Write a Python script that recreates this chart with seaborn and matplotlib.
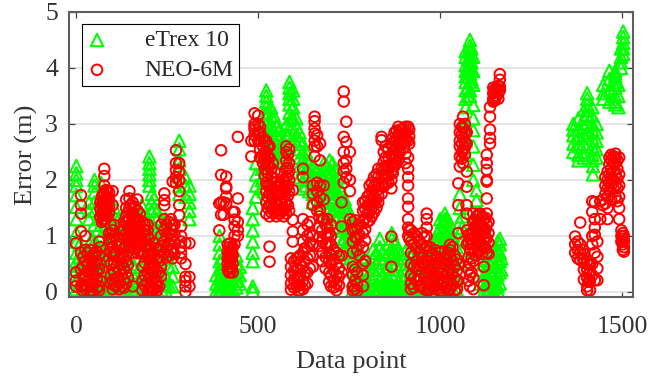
import pandas as pd
import matplotlib.pyplot as plt
import seaborn as sns

sns.set_style('ticks')
plt.rcParams['font.family'] = ['Liberation Serif', 'DejaVu Serif']

# each x goes with one list of y values
etrex_x_a = [0, 18, 35, 50, 68, 85, 105, 125, 145, 160, 180, 201, 207, 222, 245, 265, 283, 300, 311]
etrex_y_a = [
    [2.25, 2.12, 2.0, 1.9, 1.73, 1.52, 1.3, 1.05, 0.9, 0.7, 0.55, 0.4, 0.2, 0.05],
    [0.75, 0.6, 0.45, 0.3, 0.15, 0.05],
    [1.6, 1.45, 1.3, 0.85, 0.7, 0.5, 0.3, 0.1],
    [2.0, 1.9, 1.78, 1.6, 1.45, 1.2, 0.9, 0.75, 0.55, 0.35, 0.15, 0.03],
    [1.95, 1.7, 1.45, 1.2, 1.0, 0.8, 0.6, 0.4, 0.2, 0.05],
    [1.3, 1.1, 0.9, 0.7, 0.45, 0.25, 0.05],
    [1.5, 1.35, 1.2, 1.0, 0.8, 0.6, 0.4, 0.2, 0.03],
    [1.1, 0.95, 0.75, 0.55, 0.35, 0.15, 0.05],
    [1.0, 0.8, 0.6, 0.3, 0.15],
    [1.3, 1.15, 0.95, 0.7, 0.45, 0.25, 0.1],
    [1.55, 1.4, 1.2, 1.0, 0.75, 0.5, 0.3, 0.1],
    [2.42, 2.3, 2.2, 2.1, 2.0, 1.9, 1.25, 1.05, 0.9, 0.7, 0.5, 0.3],
    [1.75, 1.6, 1.45],
    [1.45, 1.3, 1.1, 0.9, 0.65, 0.4, 0.2, 0.02],
    [1.3, 1.1, 0.85, 0.6, 0.3, 0.15, 0.03],
    [0.45, 0.28, 0.1],
    [2.7, 2.55, 2.35, 2.2, 2.05, 1.9, 1.75],
    [2.05, 1.9, 1.7],
    [1.9, 1.75, 1.6, 1.45, 1.3],
]
etrex_x_b = [385, 394, 410, 430, 449, 485, 494, 510, 522, 535, 550, 570, 586, 596, 605, 623, 640, 660, 680, 696, 712, 730, 745, 760]
etrex_y_b = [
    [0.3, 0.15, 0.03],
    [1.0, 0.85, 0.7, 0.55, 0.4, 0.25, 0.1, 0.02],
    [0.5, 0.3, 0.15, 0.02],
    [0.6, 0.4, 0.2, 0.05],
    [0.45, 0.3, 0.15],
    [1.5, 1.3, 1.1, 0.9, 0.7, 0.55, 0.1, 0.02],
    [2.3, 2.1, 1.9, 1.7],
    [2.2, 2.0, 1.85],
    [3.6, 3.5, 3.4, 3.3, 3.2, 3.1, 3.0, 2.85],
    [3.3, 3.15, 3.0, 2.85, 2.7, 2.6],
    [2.95, 2.8, 2.65, 2.5, 2.4],
    [2.7, 2.5, 2.35],
    [3.75, 3.65, 3.55, 3.45, 3.35, 3.2],
    [3.6, 3.45, 3.3, 3.1],
    [3.1, 2.95, 2.8, 2.65],
    [2.65, 2.5, 2.35, 2.2, 2.0, 1.85],
    [2.3, 2.15, 2.0, 1.8],
    [2.15, 2.0, 1.85],
    [2.3, 2.2, 2.05, 1.9, 1.75],
    [2.35, 2.2, 2.05, 1.9, 1.7, 1.5, 1.35],
    [2.2, 2.0, 1.85, 1.7, 1.5, 1.3],
    [1.8, 1.6, 1.45, 1.3, 1.1, 0.9],
    [1.5, 1.3, 1.1, 0.9, 0.7],
    [1.2, 1.0, 0.85, 0.6, 0.4, 0.2, 0.03],
]
etrex_x_c = [775, 795, 815, 834, 850, 867, 885, 900, 920, 940, 960, 985, 1000, 1013, 1025, 1045, 1054, 1070, 1082, 1091, 1100, 1110, 1130, 1145, 1164, 1168]
etrex_y_c = [
    [0.7, 0.5, 0.3, 0.1, 0.02],
    [0.6, 0.4, 0.2, 0.03],
    [0.75, 0.6, 0.4, 0.2, 0.05],
    [0.95, 0.8, 0.6, 0.4, 0.2, 0.05],
    [0.6, 0.4, 0.2, 0.05],
    [1.05, 0.95, 0.8, 0.65, 0.5, 0.3, 0.1],
    [0.75, 0.6, 0.4, 0.2, 0.05],
    [0.6, 0.4, 0.2, 0.05],
    [0.9, 0.7, 0.5, 0.3, 0.1],
    [0.7, 0.5, 0.25, 0.05],
    [0.8, 0.6, 0.3],
    [0.9, 0.7, 0.45, 0.2],
    [1.3, 1.15, 1.0, 0.8, 0.55, 0.25, 0.05],
    [1.4, 1.3, 1.2, 1.05, 0.9, 0.7, 0.4, 0.1],
    [1.25, 1.1, 0.95, 0.75, 0.5],
    [0.8, 0.5, 0.2, 0.05],
    [1.75, 1.5, 1.25, 1.05],
    [4.3, 4.2, 4.05, 3.95, 3.85, 3.75, 3.6, 3.45, 3.3, 2.98, 2.7, 2.45],
    [4.5, 4.4, 4.3, 4.2, 4.05, 3.9, 3.75, 3.6, 3.5],
    [4.2, 3.95, 3.7, 3.34, 3.1, 2.89, 2.6, 2.27, 2.0],
    [1.82, 1.64, 1.4],
    [1.2, 0.95, 0.7, 0.4, 0.15],
    [0.6, 0.45, 0.3, 0.15, 0.03],
    [0.75, 0.55, 0.35, 0.15, 0.03],
    [0.95, 0.85, 0.7, 0.55, 0.35, 0.15],
    [0.6, 0.4],
]
etrex_x_d = [1366, 1380, 1395, 1404, 1418, 1420, 1430, 1448, 1465, 1481, 1490, 1497, 1503]
etrex_y_d = [
    [3.0, 2.9, 2.8, 2.65, 2.5],
    [3.1, 2.9, 2.75, 2.6, 2.45, 2.35],
    [3.25, 3.1, 2.95, 2.8, 2.65, 2.5, 2.4],
    [3.55, 3.45, 3.35, 3.25, 3.15, 3.0, 2.85],
    [3.3, 3.15, 3.0, 2.9, 2.75, 2.6, 2.45, 2.35],
    [2.25, 2.1],
    [3.0, 2.85, 2.7, 2.55, 2.4],
    [3.7, 3.55, 3.45],
    [3.95, 3.8, 3.6, 3.4],
    [3.95, 3.9, 3.85, 3.75, 3.65, 3.5, 3.4, 3.35],
    [3.7, 3.5, 3.3],
    [4.35, 4.2, 4.1, 4.0],
    [4.65, 4.55, 4.45, 4.35, 4.25],
]
# the solid green parts of the picture
etrex_x_e = [9, 27, 43, 59, 77, 95, 115, 135, 152, 170, 190, 214, 234, 255, 402, 420, 440, 515, 528, 543, 560, 578, 590, 614, 632, 650, 670, 688, 704, 721, 738, 752, 767]
etrex_y_e = [
    [0.85, 0.62, 0.47, 0.32, 0.12],
    [0.65, 0.5, 0.22, 0.08],
    [0.95, 0.6, 0.4, 0.18, 0.04],
    [1.1, 0.82, 0.62, 0.44, 0.26, 0.08],
    [1.55, 1.3, 1.1, 0.7, 0.5, 0.3, 0.1],
    [1.2, 1.0, 0.8, 0.55, 0.35, 0.12],
    [1.3, 1.1, 0.9, 0.7, 0.5, 0.3, 0.1],
    [1.05, 0.85, 0.65, 0.45, 0.25, 0.08],
    [1.15, 0.9, 0.7, 0.5, 0.2, 0.05],
    [1.4, 1.2, 1.05, 0.85, 0.6, 0.35, 0.18],
    [1.3, 1.1, 0.85, 0.62, 0.4, 0.2, 0.05],
    [1.68, 1.5, 1.15, 0.95, 0.75, 0.55, 0.3, 0.12],
    [1.3, 1.15, 0.95, 0.7, 0.45, 0.22, 0.03],
    [1.1, 0.95, 0.7, 0.45, 0.12],
    [0.6, 0.42, 0.25, 0.1, 0.03],
    [0.55, 0.35, 0.2, 0.08, 0.02],
    [0.65, 0.5, 0.35, 0.2, 0.08],
    [2.1, 1.95, 1.8],
    [2.8, 2.65, 2.5, 2.35],
    [3.15, 3.05, 2.9, 2.75, 2.6, 2.45],
    [2.9, 2.75, 2.6, 2.45, 2.3],
    [3.0, 2.8, 2.6, 2.45],
    [3.1, 3.0, 2.9, 2.7],
    [2.85, 2.7, 2.55, 2.4, 2.25, 2.05],
    [2.5, 2.35, 2.2, 2.05, 1.9],
    [2.25, 2.1, 1.95, 1.75, 1.6],
    [2.1, 1.95, 1.8, 1.65, 1.5],
    [2.25, 2.1, 1.95, 1.8, 1.6, 1.45],
    [2.3, 2.15, 2.0, 1.85, 1.65, 1.45, 1.25],
    [2.05, 1.9, 1.75, 1.55, 1.35, 1.15],
    [1.65, 1.5, 1.35, 1.15, 0.95, 0.75],
    [1.4, 1.2, 1.0, 0.8, 0.6],
    [1.05, 0.9, 0.75, 0.55, 0.35, 0.15],
]
etrex_x_f = [783, 788, 804, 824, 842, 858, 876, 892, 910, 930, 950, 972, 992, 1006, 1019, 1035, 1060, 1076, 1086, 1122, 1137, 1152, 1158]
etrex_y_f = [
    [0.62, 0.42, 0.22, 0.06],
    [0.55, 0.35, 0.15, 0.02],
    [0.5, 0.32, 0.12, 0.02],
    [0.7, 0.52, 0.32, 0.12, 0.02],
    [0.72, 0.52, 0.3, 0.12, 0.02],
    [0.85, 0.68, 0.45, 0.25, 0.08, 0.02],
    [0.9, 0.72, 0.5, 0.3, 0.1, 0.02],
    [0.68, 0.5, 0.3, 0.12, 0.02],
    [0.8, 0.6, 0.42, 0.2, 0.05],
    [0.8, 0.6, 0.4, 0.15, 0.02],
    [0.7, 0.45, 0.2, 0.05],
    [0.85, 0.6, 0.35, 0.12, 0.02],
    [1.05, 0.85, 0.6, 0.35, 0.12],
    [1.25, 1.1, 0.9, 0.65, 0.35, 0.1],
    [1.3, 1.15, 1.0, 0.8, 0.55, 0.3, 0.08],
    [1.0, 0.75, 0.5, 0.25, 0.05],
    [1.35, 1.15, 0.95, 0.75, 0.5],
    [4.15, 4.0, 3.85, 3.65, 3.5],
    [4.35, 4.25, 4.1, 3.95, 3.8],
    [0.7, 0.5, 0.3, 0.12, 0.03],
    [0.65, 0.5, 0.35, 0.2, 0.05],
    [0.8, 0.65, 0.45, 0.25, 0.08],
    [0.9, 0.72, 0.52, 0.3, 0.1, 0.02],
]

neo_x_a = [-1, 13, 25, 38, 50, 63, 70, 77, 85, 95, 100, 110, 125, 137, 146, 155, 168, 182, 196, 205, 215, 228, 242, 255, 265, 274, 283, 288, 300, 311]
neo_y_a = [
    [0.87, 0.35, 0.2, 0.1],
    [1.73, 1.55, 1.4, 1.08, 0.7, 0.4, 0.1],
    [1.0, 0.75, 0.55, 0.3, 0.05],
    [0.75, 0.6, 0.4, 0.2, 0.03],
    [0.7, 0.5, 0.3, 0.15],
    [0.9, 0.65, 0.4, 0.1, 0.03],
    [1.7, 1.55, 1.4, 1.25],
    [2.2, 2.07, 1.9, 1.75, 1.6, 1.45, 1.3],
    [1.8, 1.7, 1.6, 1.5, 1.35, 0.55],
    [1.2, 1.05, 0.9, 0.7, 0.5, 0.3, 0.15],
    [1.8, 1.55, 1.1, 0.95, 0.8, 0.65, 0.4, 0.2, 0.05],
    [0.9, 0.7, 0.45, 0.25, 0.1],
    [1.1, 0.85, 0.65, 0.5, 0.3, 0.1],
    [1.65, 1.5, 1.35, 1.25, 1.05, 0.8, 0.55, 0.35, 0.15],
    [1.8, 1.67, 1.5, 1.3, 1.1, 0.85],
    [1.6, 1.4, 1.2, 1.0, 0.7, 0.1],
    [1.65, 1.45, 1.3, 1.15, 1.0, 0.85, 0.7],
    [1.25, 1.05, 0.9, 0.7, 0.45, 0.2, 0.03],
    [1.2, 1.1, 1.0, 0.85, 0.65, 0.35, 0.15, 0.0],
    [0.75, 0.55, 0.3, 0.1, 0.02],
    [0.87, 0.65, 0.45, 0.25, 0.05],
    [0.75, 0.55, 0.35, 0.1],
    [1.76, 1.64, 1.55, 1.3, 1.1, 0.9, 0.7],
    [1.25, 1.05, 0.85, 0.65],
    [1.97, 1.2, 1.0, 0.75, 0.6],
    [2.53, 2.3, 2.18, 2.05, 1.95],
    [2.3, 2.15, 2.0, 1.8, 1.55, 1.37],
    [1.17, 1.0, 0.9, 0.8, 0.7, 0.6],
    [0.87, 0.5, 0.27, 0.2, 0.1, 0.0],
    [0.87, 0.27, 0.1],
]
neo_x_b = [393, 398, 405, 412, 416, 423, 430, 435, 444, 531, 481, 490, 500, 513, 522, 531, 540, 550, 560, 570, 577, 585, 590, 595]
neo_y_b = [
    [1.58, 1.1],
    [2.53, 2.09, 1.6, 1.38],
    [1.6, 1.38],
    [2.06, 1.88, 1.85, 1.7, 1.58],
    [0.85, 0.72, 0.6, 0.5, 0.4],
    [0.87, 0.75, 0.65, 0.55, 0.45, 0.35],
    [1.43, 0.8, 0.65, 0.5, 0.35],
    [1.43, 1.29, 1.17, 1.0, 0.85],
    [2.77, 1.67, 1.25, 1.1, 1.0],
    [0.81, 0.54],
    [2.7, 2.42],
    [3.19, 3.0, 2.95, 2.9, 2.8, 2.7],
    [3.15, 3.0, 2.85, 2.7],
    [2.75, 2.6, 2.45, 2.3],
    [2.7, 2.5, 2.35, 2.2, 1.95, 1.8, 1.6, 1.4],
    [2.6, 2.4, 2.25, 1.9, 1.75, 1.55, 1.35],
    [2.3, 2.05, 1.85, 1.7, 1.5],
    [1.95, 1.8, 1.65, 1.45, 1.35],
    [1.9, 1.75, 1.6, 1.4],
    [2.0, 1.85, 1.7, 1.5, 1.35],
    [2.6, 2.5, 2.35, 2.2, 2.05, 1.85, 1.6, 1.4],
    [2.55, 2.3, 2.15, 2.0, 1.8, 1.45],
    [0.6, 0.45, 0.3, 0.15, 0.04],
    [1.82, 1.29, 1.08, 0.9],
]
neo_x_c = [605, 615, 623, 635, 650, 655, 662, 670, 680, 690, 700, 715, 729, 735, 742, 752, 760, 772, 788, 800, 812, 825, 839, 850, 866, 875, 885, 895, 905, 912, 920, 935, 950, 963]
neo_y_c = [
    [0.6, 0.4, 0.25, 0.1],
    [0.65, 0.5, 0.3, 0.12, 0.03],
    [2.2, 2.05, 1.3, 1.1, 0.9, 0.7, 0.45, 0.2, 0.05],
    [1.2, 1.0, 0.8, 0.6, 0.35, 0.15],
    [1.9, 1.75, 1.55, 1.0, 0.85, 0.65, 0.45],
    [3.13, 3.05, 2.92, 2.83, 2.7, 2.6, 2.42],
    [2.8, 2.6, 1.95, 1.8, 1.6, 1.45],
    [2.65, 2.35, 1.9, 1.7, 1.46],
    [1.3, 1.9, 1.65],
    [1.3, 1.15, 1.0, 0.85],
    [1.2, 1.0, 0.85, 0.65, 0.5, 0.3, 0.1],
    [0.7, 0.5, 0.3, 0.15, 0.03],
    [1.6, 1.17, 0.65, 0.35],
    [3.58, 3.4, 2.77, 2.5, 2.3, 2.15, 1.95],
    [3.04, 2.68, 2.35, 2.2, 2.05],
    [2.5, 2.0, 1.8, 1.3],
    [1.25, 1.1, 0.9, 0.7, 0.45, 0.3, 0.1, 0.03],
    [1.15, 0.95, 0.75, 0.35, 0.15, 0.02],
    [1.6, 1.45, 1.25, 1.05, 0.8, 0.5, 0.3, 0.1],
    [1.7, 1.55, 1.4, 1.25],
    [1.95, 1.8, 1.65, 1.5, 1.35],
    [2.1, 1.95, 1.8, 1.65, 1.5],
    [2.77, 2.71, 2.2, 2.05, 1.9, 1.75],
    [2.6, 2.4, 2.25, 2.1, 1.95],
    [2.65, 2.45, 2.3, 2.15, 2.0, 1.85, 0.99, 0.45],
    [2.85, 2.7, 2.55, 2.4, 2.25],
    [2.95, 2.8, 2.65, 2.5, 2.35],
    [2.9, 2.8, 2.7],
    [2.95, 2.85, 2.7, 2.47, 2.3],
    [2.95, 2.7, 2.4, 2.2, 2.05, 1.9, 1.67, 1.52, 1.3, 1.15, 1.0],
    [1.1, 0.9, 0.7, 0.5, 0.3, 0.15, 0.05],
    [1.0, 0.8, 0.55, 0.4, 0.2],
    [1.05, 0.85, 0.6, 0.35, 0.1],
    [1.4, 1.3, 1.15, 1.0, 0.8, 0.55, 0.3, 0.03],
]
neo_x_d = [972, 985, 998, 1010, 1027, 1040, 1050, 1054, 1063, 1073, 1082, 1091, 1100, 1110, 1120, 1128, 1137, 1146, 1155, 1164]
neo_y_d = [
    [0.8, 0.6, 0.4, 0.2, 0.05],
    [0.75, 0.5, 0.3, 0.1],
    [0.7, 0.45, 0.2, 0.02],
    [0.6, 0.4, 0.15, 0.0],
    [0.84, 0.75, 0.63, 0.4, 0.2, 0.05],
    [0.65, 0.45, 0.25, 0.02],
    [1.94, 1.55, 1.05, 0.5, 0.2],
    [3.0, 2.85, 2.7, 2.6, 2.42, 2.24],
    [3.13, 2.92, 2.75, 2.53, 2.3],
    [2.85, 2.65, 2.15, 1.88, 1.55, 1.4, 1.1, 0.85],
    [0.95, 0.75, 0.5, 0.3, 0.1],
    [1.4, 1.25, 1.1, 0.85, 0.55, 0.25, 0.05],
    [1.35, 1.2, 1.05, 0.85, 0.65],
    [1.4, 1.25, 1.1, 0.9, 0.75],
    [1.3, 1.1, 0.95, 0.8, 0.45, 0.12],
    [2.45, 2.3, 2.18, 2.0, 1.97, 1.67, 1.4, 1.2, 0.95, 0.7],
    [3.3, 3.13, 2.9, 2.75, 2.65],
    [3.45, 3.55, 3.65, 3.4],
    [3.6, 3.5, 3.65, 3.58],
    [3.89, 3.79, 3.67, 3.6],
]
neo_x_e = [1371, 1378, 1385, 1392, 1404, 1412, 1418, 1425, 1432, 1447, 1460, 1470, 1482, 1492, 1498, 1505]
neo_y_e = [
    [0.99, 0.85, 0.7],
    [0.9, 0.75, 0.6],
    [1.24, 0.85, 0.7, 0.57],
    [0.75, 0.6],
    [0.55, 0.4, 0.25, 0.1, 0.03],
    [0.5, 0.35, 0.2, 0.03],
    [1.62, 1.43, 1.0, 0.85, 0.5, 0.3],
    [1.6, 1.3, 1.15, 1.02, 0.7, 0.21],
    [0.9, 0.63, 0.42, 0.21],
    [1.65, 1.55],
    [2.15, 2.0, 1.85, 1.7, 1.5, 1.3],
    [2.45, 2.35, 2.2, 2.05, 1.9, 1.65],
    [2.47, 2.4, 2.3, 2.1, 1.9, 1.7],
    [2.4, 2.1, 1.9, 1.7, 1.5, 1.3],
    [1.1, 1.0, 0.9],
    [1.0, 0.9, 0.8, 0.72],
]
# the solid red parts of the picture
neo_x_f = [19, 31, 44, 56, 66, 74, 81, 90, 104, 118, 131, 142, 150, 161, 174, 188, 200, 210, 221, 233, 248, 260, 270]
neo_y_f = [
    [0.62, 0.45, 0.28, 0.12, 0.02],
    [0.7, 0.5, 0.38, 0.2, 0.08],
    [0.65, 0.48, 0.32, 0.12, 0.02],
    [0.72, 0.55, 0.38, 0.22, 0.06],
    [1.6, 1.48, 1.35, 0.8, 0.5, 0.2],
    [1.75, 1.62, 1.5, 1.38, 1.28],
    [1.82, 1.68, 1.55, 1.42, 1.3],
    [1.78, 1.65, 1.52, 1.4, 1.05, 0.95],
    [1.2, 1.0, 0.72, 0.52, 0.35, 0.12],
    [0.85, 0.6, 0.38, 0.18, 0.05],
    [1.25, 1.1, 0.95, 0.78, 0.6, 0.42, 0.22, 0.08],
    [1.42, 1.28, 1.15, 1.0, 0.9, 0.72, 0.48, 0.25],
    [1.55, 1.4, 1.22, 1.08, 0.95, 0.78],
    [1.52, 1.32, 1.18, 1.05, 0.92, 0.78],
    [1.4, 1.25, 1.1, 0.95, 0.82, 0.72],
    [1.2, 1.1, 0.95, 0.82, 0.68, 0.52, 0.3, 0.12],
    [0.95, 0.8, 0.58, 0.42, 0.25, 0.08, 0.0],
    [0.68, 0.48, 0.35, 0.18, 0.05, 0.0],
    [0.78, 0.58, 0.38, 0.2, 0.1, 0.02],
    [1.2, 1.0, 0.82, 0.62, 0.45, 0.28],
    [1.2, 1.0, 0.8, 0.62],
    [1.3, 1.12, 0.95, 0.72],
    [1.2, 1.02, 0.88, 0.68],
]
neo_x_g = [420, 427, 505, 518, 526, 536, 545, 555, 565, 574, 582, 598, 610, 628, 642, 668, 676, 685, 695, 708, 722, 766, 778, 794, 806, 818, 830, 845, 858, 870, 880, 890, 900, 915]
neo_y_g = [
    [0.8, 0.68, 0.58, 0.45, 0.35],
    [0.78, 0.7, 0.6, 0.42],
    [2.95, 2.85, 2.7, 2.55, 2.4],
    [2.68, 2.5, 2.38, 2.2, 2.08],
    [2.6, 2.42, 2.28, 2.12, 1.9, 1.7, 1.5],
    [2.2, 2.05, 1.88, 1.72, 1.58, 1.42],
    [2.15, 1.95, 1.78, 1.62, 1.42],
    [1.88, 1.72, 1.55, 1.4],
    [1.92, 1.78, 1.62, 1.45],
    [1.95, 1.8, 1.62, 1.48],
    [2.45, 2.22, 2.08, 1.9, 1.72, 1.55],
    [0.55, 0.38, 0.22, 0.08],
    [0.62, 0.42, 0.28, 0.12, 0.02],
    [0.78, 0.55, 0.35, 0.12],
    [1.25, 1.05, 0.88, 0.65, 0.42],
    [1.35, 1.15, 0.98, 0.82],
    [1.3, 1.1, 0.9, 0.7, 0.55],
    [1.2, 1.02, 0.85, 0.62, 0.42],
    [1.05, 0.88, 0.7, 0.55, 0.35, 0.18],
    [0.75, 0.58, 0.38, 0.2, 0.08],
    [0.65, 0.42, 0.28, 0.12],
    [1.28, 1.12, 0.98, 0.4, 0.2, 0.05],
    [1.2, 1.02, 0.85, 0.65],
    [1.62, 1.48, 1.32, 1.12, 0.92, 0.55],
    [1.9, 1.75, 1.58, 1.42, 1.28],
    [2.05, 1.88, 1.72, 1.58, 1.42],
    [2.2, 2.05, 1.9, 1.72, 1.6],
    [2.5, 2.32, 2.18, 2.02, 1.88],
    [2.55, 2.4, 2.22, 2.08, 1.95],
    [2.75, 2.6, 2.42, 2.28, 2.12],
    [2.88, 2.72, 2.58, 2.42, 2.3],
    [2.9, 2.78, 2.62, 2.5],
    [2.92, 2.8, 2.68, 2.58],
    [2.9, 2.78, 2.65, 1.1, 0.95],
]
neo_x_h = [928, 942, 957, 968, 978, 992, 1004, 1016, 1022, 1034, 1046, 1060, 1068, 1078, 1086, 1095, 1105, 1115, 1125, 1133, 1150, 1160, 1395, 1408, 1440, 1454, 1465, 1476, 1487, 1502]
neo_y_h = [
    [1.05, 0.85, 0.65, 0.45, 0.25, 0.08],
    [0.92, 0.72, 0.48, 0.28, 0.1],
    [0.98, 0.78, 0.5, 0.25, 0.05],
    [0.72, 0.55, 0.35, 0.15, 0.02],
    [0.7, 0.5, 0.28, 0.08],
    [0.62, 0.4, 0.22, 0.05],
    [0.72, 0.52, 0.32, 0.12, 0.0],
    [0.62, 0.48, 0.28, 0.08],
    [0.7, 0.52, 0.35, 0.15, 0.02],
    [0.8, 0.55, 0.32, 0.12],
    [0.58, 0.38, 0.2, 0.05],
    [2.95, 2.82, 2.65, 2.5, 2.38],
    [3.0, 2.85, 2.68, 2.58, 2.45],
    [1.02, 0.88, 0.62, 0.4, 0.2],
    [1.05, 0.85, 0.6, 0.35],
    [1.28, 1.15, 0.98, 0.75],
    [1.38, 1.22, 1.08, 0.92, 0.72],
    [1.35, 1.18, 1.02, 0.85, 0.68],
    [1.32, 1.12, 0.98, 0.78],
    [1.25, 1.05, 0.88, 0.68],
    [3.62, 3.5, 3.42],
    [3.68, 3.55, 3.45],
    [0.68, 0.52, 0.4, 0.22],
    [0.48, 0.32, 0.18],
    [1.62, 1.3],
    [2.05, 1.9, 1.75, 1.58],
    [2.4, 2.28, 2.1, 1.95, 1.8],
    [2.42, 2.3, 2.15, 2.0, 1.85],
    [2.35, 2.2, 2.02, 1.85, 1.62],
    [1.05, 0.95, 0.85, 0.75],
]

tick_x = [0, 500, 1000, 1500]
tick_y = [0, 1, 2, 3, 4, 5]


def make_frame(x_groups, y_groups):
    xs, ys = [], []
    for x_list, y_list in zip(x_groups, y_groups):
        for x, col in zip(x_list, y_list):
            xs += [x] * len(col)
            ys += col
    return pd.DataFrame({'point': xs, 'error': ys})


etrex = make_frame([etrex_x_a, etrex_x_b, etrex_x_c, etrex_x_d, etrex_x_e, etrex_x_f],
                   [etrex_y_a, etrex_y_b, etrex_y_c, etrex_y_d, etrex_y_e, etrex_y_f])
neo = make_frame([neo_x_a, neo_x_b, neo_x_c, neo_x_d, neo_x_e, neo_x_f, neo_x_g, neo_x_h],
                 [neo_y_a, neo_y_b, neo_y_c, neo_y_d, neo_y_e, neo_y_f, neo_y_g, neo_y_h])

fig, ax = plt.subplots(figsize=(6.49, 3.78), dpi=100)
fig.subplots_adjust(left=69 / 649, right=633 / 649, top=366 / 378, bottom=81 / 378)

sns.scatterplot(data=etrex, x='point', y='error', marker='^', s=80, facecolor='none',
                edgecolor='#00ff00', linewidth=1.5, label='eTrex 10', ax=ax)
sns.scatterplot(data=neo, x='point', y='error', marker='o', s=58, facecolor='none',
                edgecolor='#ff0000', linewidth=1.4, label='NEO-6M', ax=ax)

ax.set_xlim(-20, 1530)
ax.set_ylim(-0.09, 5)
ax.set_xticks(tick_x)
ax.set_yticks(tick_y)
ax.grid(axis='y', color='#e0e0e0', linewidth=1.2)
ax.set_axisbelow(True)
ax.tick_params(direction='in', top=True, right=True, length=4, width=0.9, color='#444444',
               labelsize=18.5, labelcolor='#333333')
ax.tick_params(axis='x', pad=14)
ax.tick_params(axis='y', pad=8)
for side in ax.spines.values():
    side.set_visible(True)
    side.set_color('#5e5e5e')
    side.set_linewidth(1.5)
ax.set_xlabel('Data point', fontsize=19, color='#333333', labelpad=9)
ax.set_ylabel('Error (m)', fontsize=19, color='#333333', labelpad=5)

leg = ax.legend(loc='upper left', bbox_to_anchor=(13 / 564, 1 - 12.5 / 285), borderaxespad=0,
                fontsize=17, fancybox=False, framealpha=1, edgecolor='black', handletextpad=1.61,
                labelspacing=0.35, borderpad=0.22, handlelength=0.83)
leg.get_frame().set_linewidth(0.8)

fig.savefig('out.png', dpi=100)
